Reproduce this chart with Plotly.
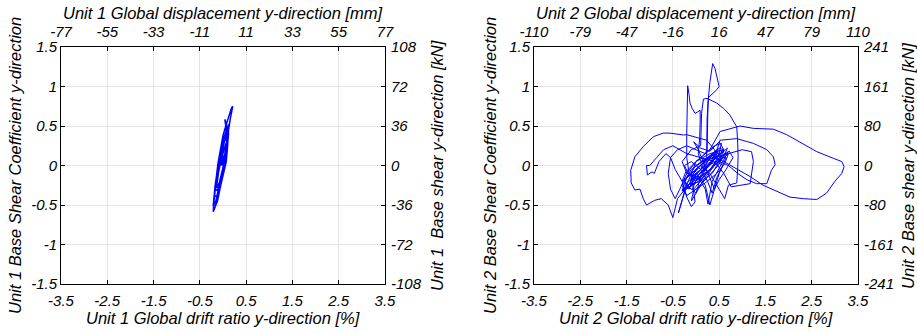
import plotly.graph_objects as go

# ---------------- data ----------------
drift_ticks = [-3.5, -2.5, -1.5, -0.5, 0.5, 1.5, 2.5, 3.5]
drift_labels = ["-3.5", "-2.5", "-1.5", "-0.5", "0.5", "1.5", "2.5", "3.5"]
coef_ticks = [-1.5, -1, -0.5, 0, 0.5, 1, 1.5]
coef_labels = ["-1.5", "-1", "-0.5", "0", "0.5", "1", "1.5"]
u1_disp_labels = ["-77", "-55", "-33", "-11", "11", "33", "55", "77"]
u2_disp_labels = ["-110", "-79", "-47", "-16", "16", "47", "79", "110"]
u1_kn_labels = ["-108", "-72", "-36", "0", "36", "72", "108"]
u2_kn_labels = ["-241", "-161", "-80", "0", "80", "161", "241"]

u1_drift = [
    -0.02, 0.04, 0.08, 0.03, -0.05, -0.10, -0.14, -0.08, -0.01, 0.06,
    0.10, 0.11, 0.06, -0.02, -0.09, -0.15, -0.18, -0.14, -0.07, 0.02,
    0.08, 0.11, 0.12, 0.09, 0.02, -0.05, -0.12, -0.17, -0.21, -0.17,
    -0.10, -0.04, 0.04, 0.09, 0.08, 0.06, 0.04, 0.07, 0.10, 0.12,
    0.11, 0.03, -0.05, -0.11, -0.16, -0.20, -0.21, -0.19, -0.12, -0.06,
    0.02, 0.07, 0.10, 0.12, 0.16, 0.19, 0.21, 0.18, 0.12, 0.06,
    0.00, -0.06, -0.11, -0.15, -0.19, -0.20, -0.16, -0.10, -0.03, 0.05,
    0.09, 0.12, 0.08, 0.01, -0.06, -0.12, -0.16, -0.12, -0.05, 0.02,
    0.05, 0.00, -0.05]
u1_coef = [
    0.00, 0.15, 0.30, 0.22, 0.05, -0.10, -0.28, -0.22, -0.05, 0.15,
    0.35, 0.45, 0.40, 0.20, 0.02, -0.18, -0.38, -0.40, -0.25, -0.05,
    0.15, 0.35, 0.50, 0.48, 0.35, 0.15, -0.05, -0.25, -0.50, -0.50,
    -0.40, -0.20, 0.00, 0.20, 0.35, 0.50, 0.585, 0.50, 0.45, 0.52,
    0.42, 0.30, 0.12, -0.05, -0.25, -0.45, -0.585, -0.55, -0.45, -0.28,
    -0.08, 0.05, 0.25, 0.45, 0.60, 0.70, 0.75, 0.72, 0.62, 0.50,
    0.38, 0.20, 0.02, -0.18, -0.38, -0.48, -0.46, -0.32, -0.12, 0.05,
    0.22, 0.40, 0.42, 0.28, 0.10, -0.10, -0.30, -0.32, -0.15, 0.02,
    0.15, 0.10, 0.00]

u2_drift = [
    0.00, 0.15, 0.30, 0.20, 0.05, -0.10, 0.00, 0.20, 0.40, 0.30,
    0.10, -0.12, -0.05, 0.15, 0.45, 0.55, 0.35, 0.10, -0.15, -0.25,
    -0.10, 0.20, 0.50, 0.62, 0.48, 0.25, 0.00, -0.20, -0.30, -0.15,
    -0.20, -0.20, -0.19, -0.18, -0.15, -0.13, -0.08, -0.02, 0.04, 0.09,
    0.09, 0.08, 0.05, 0.10, 0.30, 0.50, 0.40, 0.15, -0.05, -0.10,
    0.00, 0.20, 0.40, 0.60, 0.70, 0.55, 0.35, 0.26, 0.20, 0.05,
    -0.20, -0.30, -0.10, 0.10, 0.12, 0.12, 0.16, 0.24, 0.45, 0.60,
    0.73, 0.82, 0.88, 0.90, 0.91, 0.90, 0.88, 0.70, 0.62, 0.50,
    0.30, 0.10, -0.10, -0.02, -0.10, -0.20, -0.30, -0.45, -0.55, -0.40,
    -0.20, 0.00, 0.20, 0.24, 0.25, 0.26, 0.30, 0.33, 0.36, 0.41,
    0.45, 0.48, 0.50, 0.45, 0.35, 0.27, 0.24, 0.24, 0.23, 0.10,
    -0.10, -0.25, -0.40, -0.50, -0.60, -0.75, -0.89, -1.07, -1.14, -1.21,
    -1.32, -1.40, -1.41, -1.32, -1.14, -0.92, -0.71, -0.56, -0.27, -0.20,
    0.23, 0.40, 0.50, 0.35, 0.10, -0.20, -0.38, -0.31, -0.24, 0.00,
    0.30, 0.52, 0.95, 1.24, 1.67, 1.96, 2.25, 2.61, 2.97, 3.15,
    3.20, 3.15, 3.00, 2.82, 2.61, 2.32, 2.03, 1.74, 1.45, 1.17,
    0.88, 0.60, 0.40, 0.52, 0.88, 1.24, 1.53, 1.67, 1.71, 1.63,
    1.53, 1.31, 1.10, 0.90, 0.70, 0.50, 0.70, 1.00, 1.20, 1.24,
    1.17, 1.00, 0.76, 0.60, 0.40, 0.10, -0.20, -0.50, -0.70, -0.85,
    -1.00, -1.07, -1.05, -0.95, -0.90, -0.80, -0.65, -0.55, -0.60, -0.55,
    -0.45, -0.35, -0.20, 0.00, 0.30, 0.60, 0.50, 0.20, -0.10, -0.30,
    -0.20, 0.10, 0.40, 0.65, 0.50, 0.30, 0.20, 0.00, -0.15, -0.25,
    0.00, 0.25, 0.45, 0.35, 0.15,
    0.15, 0.35, 0.55, 0.68, 0.60, 0.40, 0.15, -0.10, -0.28, -0.20,
    0.00, 0.25, 0.50, 0.70, 0.62, 0.45, 0.20, -0.05, -0.15, 0.00,
    0.20, 0.45, 0.60, 0.50, 0.30, 0.10, -0.12, -0.30, -0.22, 0.00,
    0.20, 0.40, 0.55, 0.50, 0.30, 0.10, 0.00, -0.08, 0.05, 0.25,
    0.45, 0.58, 0.45, 0.35, 0.25, 0.10, -0.10, -0.25, -0.15, 0.05,
    0.30, 0.50, 0.72, 0.80, 0.65, 0.50, 0.40, 0.30, 0.15, 0.05,
    -0.05, 0.10, 0.30, 0.50, 0.60, 0.40, 0.20, 0.00, -0.20, -0.10,
    0.10, 0.30, 0.45, 0.30, 0.10]
u2_coef = [
    0.00, 0.05, 0.10, 0.00, -0.08, -0.15, -0.05, 0.06, 0.14, 0.02,
    -0.10, -0.20, -0.10, 0.03, 0.17, 0.12, -0.02, -0.18, -0.28, -0.20,
    -0.05, 0.08, 0.20, 0.15, 0.00, -0.15, -0.30, -0.38, -0.25, -0.10,
    0.10, 0.40, 0.75, 1.01, 0.90, 0.79, 0.72, 0.66, 0.68, 0.70,
    0.55, 0.35, 0.15, 0.05, 0.12, 0.16, 0.02, -0.15, -0.30, -0.45,
    -0.35, -0.15, 0.00, 0.12, 0.18, 0.02, -0.20, -0.49, -0.30, -0.15,
    -0.10, 0.05, 0.20, 0.25, 0.50, 0.66, 0.84, 0.85, 0.79, 0.72,
    0.64, 0.56, 0.49, 0.30, 0.11, -0.05, -0.22, -0.25, -0.42, -0.30,
    -0.10, 0.00, -0.10, -0.46, -0.52, -0.40, -0.20, -0.05, 0.10, 0.20,
    0.25, 0.20, 0.15, 0.20, 0.50, 0.80, 1.05, 1.20, 1.29, 1.23,
    1.12, 1.08, 1.00, 0.96, 0.90, 0.86, 0.60, 0.30, 0.10, -0.05,
    -0.20, -0.30, -0.42, -0.66, -0.50, -0.42, -0.44, -0.50, -0.42, -0.30,
    -0.31, -0.22, -0.06, 0.11, 0.24, 0.365, 0.41, 0.41, 0.386, 0.39,
    0.32, 0.20, 0.05, -0.10, -0.20, -0.25, -0.60, -0.44, -0.31, 0.05,
    0.20, 0.43, 0.50, 0.47, 0.46, 0.39, 0.29, 0.175, 0.09, 0.05,
    -0.015, -0.10, -0.20, -0.35, -0.43, -0.42, -0.40, -0.33, -0.25, -0.14,
    -0.04, 0.05, 0.10, 0.32, 0.34, 0.28, 0.20, 0.11, 0.01, -0.06,
    -0.23, -0.23, -0.18, -0.10, 0.00, 0.05, 0.15, 0.20, 0.175, 0.05,
    -0.23, -0.25, -0.27, -0.10, 0.05, 0.10, 0.15, 0.25, 0.20, 0.10,
    0.00, 0.00, -0.12, -0.08, -0.10, 0.05, 0.15, 0.10, -0.10, -0.30,
    -0.42, -0.30, -0.10, 0.05, 0.15, 0.20, 0.05, -0.10, -0.22, -0.32,
    -0.15, 0.00, 0.12, 0.10, -0.10, -0.50, -0.25, -0.10, -0.30, -0.20,
    0.00, 0.10, 0.20, 0.05, -0.05,
    -0.05, 0.05, 0.15, 0.22, 0.12, 0.00, -0.12, -0.25, -0.33, -0.22,
    -0.10, 0.02, 0.12, 0.15, 0.02, -0.10, -0.22, -0.32, -0.28, -0.15,
    -0.02, 0.10, 0.20, 0.22, 0.12, 0.00, -0.12, -0.20, -0.08, 0.05,
    0.15, 0.25, 0.28, 0.15, 0.02, -0.15, -0.35, -0.30, -0.12, 0.00,
    0.05, 0.00, -0.15, -0.35, -0.20, -0.05, 0.05, 0.00, -0.12, -0.18,
    -0.05, 0.10, 0.18, 0.10, -0.05, -0.18, -0.30, -0.15, 0.05, 0.20,
    0.30, 0.22, 0.18, 0.30, 0.20, 0.08, -0.05, -0.20, -0.30, -0.18,
    -0.05, 0.08, 0.12, 0.00, -0.10]

# ---------------- styling ----------------
W, H = 917, 333
FONT = "Liberation Sans, Arial, sans-serif"
tickfont = dict(family=FONT, size=15, color="black", style="italic")
titlefont = dict(family=FONT, size=16.5, color="black", style="italic")
GRID = "rgb(228,228,228)"
LINE = "rgb(0,0,255)"

left_dom = [61 / W, 385 / W]
right_dom = [534 / W, 858 / W]
ydom = [(H - 284) / H, (H - 47) / H]

def base_axis(**kw):
    d = dict(showline=True, linecolor="black", linewidth=1, ticks="inside",
             ticklen=4, tickcolor="black", tickwidth=1, zeroline=False,
             tickfont=tickfont, showgrid=False, fixedrange=True,
             automargin=False)
    d.update(kw)
    return d

fig = go.Figure()
fig.add_trace(go.Scatter(x=u1_drift, y=u1_coef, mode="lines",
                         line=dict(color=LINE, width=1.5), xaxis="x", yaxis="y",
                         showlegend=False))
fig.add_trace(go.Scatter(x=u2_drift, y=u2_coef, mode="lines",
                         line=dict(color=LINE, width=1), xaxis="x2", yaxis="y2",
                         showlegend=False))
# placeholders so the secondary (label) axes exist
for xa, ya in (("x3", "y3"), ("x4", "y4")):
    fig.add_trace(go.Scatter(x=[], y=[], xaxis=xa, yaxis=ya, showlegend=False))

layout = dict(
    template="none",
    width=W, height=H, margin=dict(l=0, r=0, t=0, b=0, pad=0),
    paper_bgcolor="white", plot_bgcolor="white", showlegend=False,
    xaxis=base_axis(domain=left_dom, anchor="y", range=[-3.5, 3.5],
                    tickvals=drift_ticks, ticktext=drift_labels,
                    showgrid=True, gridcolor=GRID, ticklabelstandoff=3),
    yaxis=base_axis(domain=ydom, anchor="x", range=[-1.5, 1.5],
                    tickvals=coef_ticks, ticktext=coef_labels,
                    showgrid=True, gridcolor=GRID),
    xaxis2=base_axis(domain=right_dom, anchor="y2", range=[-3.5, 3.5],
                     tickvals=drift_ticks, ticktext=drift_labels,
                     showgrid=True, gridcolor=GRID, ticklabelstandoff=3),
    yaxis2=base_axis(domain=ydom, anchor="x2", range=[-1.5, 1.5],
                     tickvals=coef_ticks, ticktext=coef_labels,
                     showgrid=True, gridcolor=GRID),
    xaxis3=base_axis(overlaying="x", side="top", anchor="y", range=[-3.5, 3.5],
                     tickvals=drift_ticks, ticktext=u1_disp_labels,
                     ticklabelstandoff=3),
    yaxis3=base_axis(overlaying="y", side="right", anchor="x", range=[-1.5, 1.5],
                     tickvals=coef_ticks, ticktext=u1_kn_labels,
                     ticklabelstandoff=2),
    xaxis4=base_axis(overlaying="x2", side="top", anchor="y2", range=[-3.5, 3.5],
                     tickvals=drift_ticks, ticktext=u2_disp_labels,
                     ticklabelstandoff=3),
    yaxis4=base_axis(overlaying="y2", side="right", anchor="x2", range=[-1.5, 1.5],
                     tickvals=coef_ticks, ticktext=u2_kn_labels,
                     ticklabelstandoff=2),
)
fig.update_layout(**layout)

def ann(text, px, py, angle=0):
    fig.add_annotation(text=text, x=px / W, y=1 - py / H, xref="paper", yref="paper",
                       xanchor="center", yanchor="middle", showarrow=False,
                       textangle=angle, font=titlefont)

ann("Unit 1 Global drift ratio y-direction [%]", 223, 318)
ann("Unit 1 Global displacement y-direction [mm]", 223, 13)
ann("Unit 1 Base Shear Coefficient y-direction", 15, 166, -90)
ann("Unit 1  Base shear y-direction [kN]", 437, 166, -90)
ann("Unit 2 Global drift ratio y-direction [%]", 696, 318)
ann("Unit 2 Global displacement y-direction [mm]", 696, 13)
ann("Unit 2 Base Shear Coefficient y-direction", 490, 166, -90)
ann("Unit 2 Base shear y-direction [kN]", 908, 166, -90)

fig.write_html("out.html",
               config={"displayModeBar": False, "staticPlot": True},
               post_script="document.body.style.margin='0';"
                           "document.body.style.overflow='hidden';")
